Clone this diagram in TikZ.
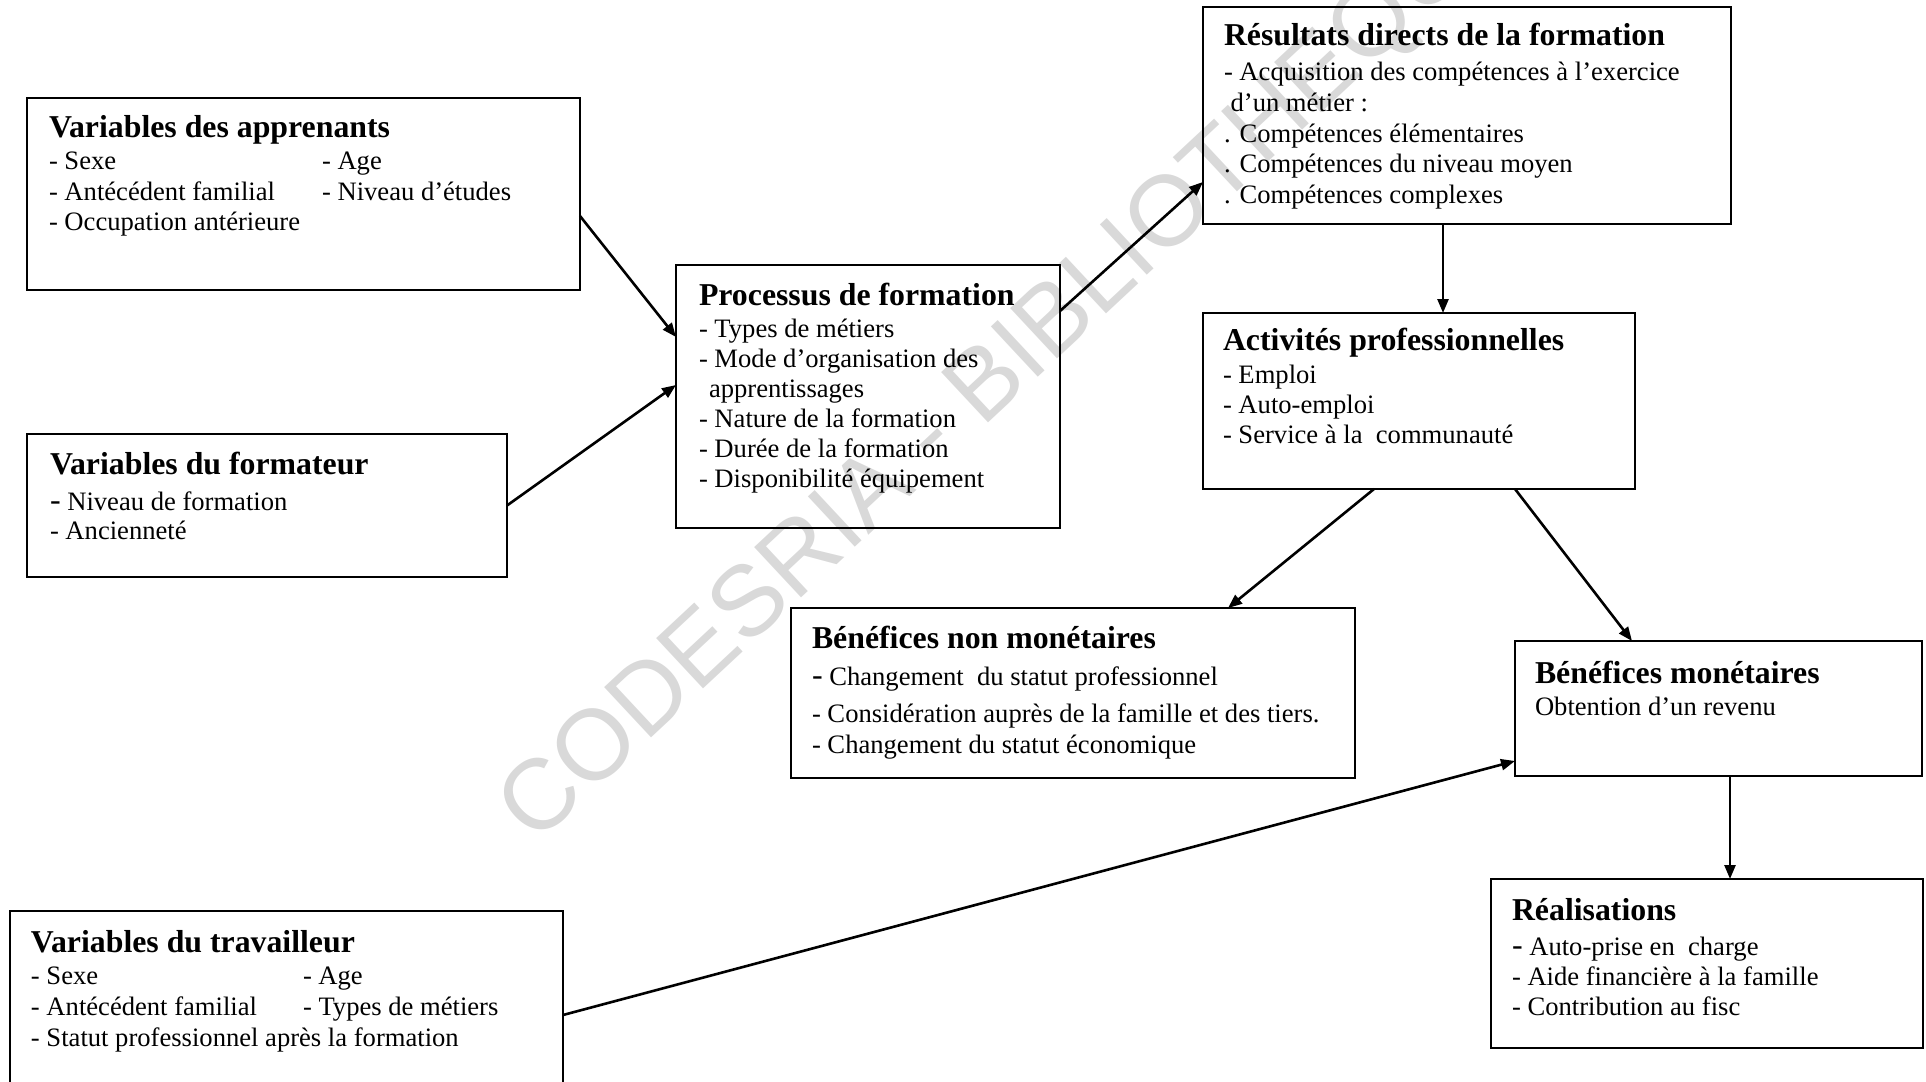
\documentclass[tikz,border=0pt]{standalone}
\usepackage{fontspec}
\setmainfont{Liberation Serif}
\newfontfamily\wmfamily{Liberation Sans}
\usetikzlibrary{arrows.meta,calc}
\newcommand\bodyfont{\fontsize{13.3pt}{15.2pt}\selectfont}
\newcommand\titlefont{\fontsize{15.9pt}{15.2pt}\selectfont\bfseries}
\newcommand\boxtext[4]{\vtop{\bodyfont\baselineskip=#3\lineskiplimit=-100pt\lineskip=0pt\hbox{\titlefont #1}\vskip\dimexpr#2-#3\relax #4}}
\newcommand\tline[1]{\hbox{#1}}
\newcommand\twocol[3]{\hbox{\makebox[#1][l]{#2}#3}}
\newcommand\bigdash{{\fontsize{16pt}{16pt}\selectfont -}}
\begin{document}
\begin{tikzpicture}[x=0.5pt,y=-0.5pt]
\tikzset{
  box/.style={draw, line width=1pt, rectangle, inner sep=0pt, outer sep=0pt, anchor=north west},
  txt/.style={anchor=base west, inner sep=0pt, outer sep=0pt},
  arr/.style={line width=1.3pt, -{Triangle[length=7pt,width=5.5pt]}},
  wm/.style={anchor=base west, inner sep=0pt, rotate=43, text=black!15, font=\wmfamily\fontsize{50pt}{50pt}\selectfont},
}
\useasboundingbox (0,0) rectangle (1926,1081);
\clip (0,0) rectangle (1926,1081);
\node[wm] (wm) at (535,846) {CODESRIA - BIBLIOTHEQUE};

% boxes
\node[box, minimum width=276.5pt, minimum height=96pt] (A) at (27,98) {};
\node[box, minimum width=240pt, minimum height=71.5pt] (B) at (27,434) {};
\node[box, minimum width=192pt, minimum height=131.5pt] (C) at (676,265) {};
\node[box, minimum width=264pt, minimum height=108.5pt] (D) at (1203,7) {};
\node[box, minimum width=216pt, minimum height=88pt] (E) at (1203,313) {};
\node[box, minimum width=282pt, minimum height=85pt] (F) at (791,608) {};
\node[box, minimum width=203.5pt, minimum height=67.5pt] (G) at (1515,641) {};
\node[box, minimum width=216pt, minimum height=84.5pt] (H) at (1491,879) {};
\node[box, minimum width=276.5pt, minimum height=99.5pt] (I) at (10,911) {};

% texts
\node[txt] (At) at (49,138) {\boxtext{Variables des apprenants}{16pt}{15.25pt}{%
  \twocol{136.5pt}{- Sexe}{- Age}%
  \twocol{136.5pt}{- Antécédent familial}{- Niveau d’études}%
  \tline{- Occupation antérieure}}};
\node[txt] (Bt) at (50,474) {\boxtext{Variables du formateur}{18pt}{14.5pt}{%
  \tline{\bigdash\ Niveau de formation}%
  \tline{- Ancienneté}}};
\node[txt] (Ct) at (699,305) {\boxtext{Processus de formation}{16pt}{15pt}{%
  \tline{- Types de métiers}%
  \tline{- Mode d’organisation des}%
  \tline{\hspace{5pt}apprentissages}%
  \tline{- Nature de la formation}%
  \tline{- Durée de la formation}%
  \tline{- Disponibilité équipement}}};
\node[txt] (Dt) at (1224,46) {\boxtext{Résultats directs de la formation}{17.5pt}{15.3pt}{%
  \tline{- Acquisition des compétences à l’exercice}%
  \tline{\hspace{3.3pt}d’un métier :}%
  \tline{. Compétences élémentaires}%
  \tline{. Compétences du niveau moyen}%
  \tline{. Compétences complexes}}};
\node[txt] (Et) at (1223,350) {\boxtext{Activités professionnelles}{16.5pt}{15pt}{%
  \tline{- Emploi}%
  \tline{- Auto-emploi}%
  \tline{- Service à la\ \ communauté}}};
\node[txt] (Ft) at (812,648) {\boxtext{Bénéfices non monétaires}{18.5pt}{15.5pt}{%
  \tline{\bigdash\ Changement\ \ du statut professionnel}\vskip3pt
  \tline{- Considération auprès de la famille et des tiers.}%
  \tline{- Changement du statut économique}}};
\node[txt] (Gt) at (1535,683) {\boxtext{Bénéfices monétaires}{16pt}{15pt}{%
  \tline{Obtention d’un revenu}}};
\node[txt] (Ht) at (1512,920) {\boxtext{Réalisations}{17.5pt}{15pt}{%
  \tline{\bigdash\ Auto-prise en\ \ charge}%
  \tline{- Aide financière à la famille}%
  \tline{- Contribution au fisc}}};
\node[txt] (It) at (31,952) {\boxtext{Variables du travailleur}{16pt}{15.5pt}{%
  \twocol{136pt}{- Sexe}{- Age}%
  \twocol{136pt}{- Antécédent familial}{- Types de métiers}%
  \tline{- Statut professionnel après la formation}}};

% connectors
\draw[arr] ($(A.north east)+(0,118)$) -- ($(C.north west)+(0,72)$);
\draw[arr] (B.east) -- ($(C.north west)+(0,120)$);
\draw[arr] ($(C.north east)+(0,46)$) -- ($(D.north west)+(0,175)$);
\coordinate (d4) at ($(D.south west)+(240,0)$);
\draw[arr] (d4) -- (d4 |- E.north);
\draw[arr] ($(E.south west)+(171,0)$) -- ($(F.north west)+(437,0)$);
\draw[arr] ($(E.south west)+(312,0)$) -- ($(G.north west)+(117,0)$);
\draw[arr] ($(I.north east)+(0,104)$) -- ($(G.north west)+(0,120)$);
\coordinate (g8) at ($(G.south west)+(215,0)$);
\draw[arr] (g8) -- (g8 |- H.north);
\end{tikzpicture}
\end{document}
